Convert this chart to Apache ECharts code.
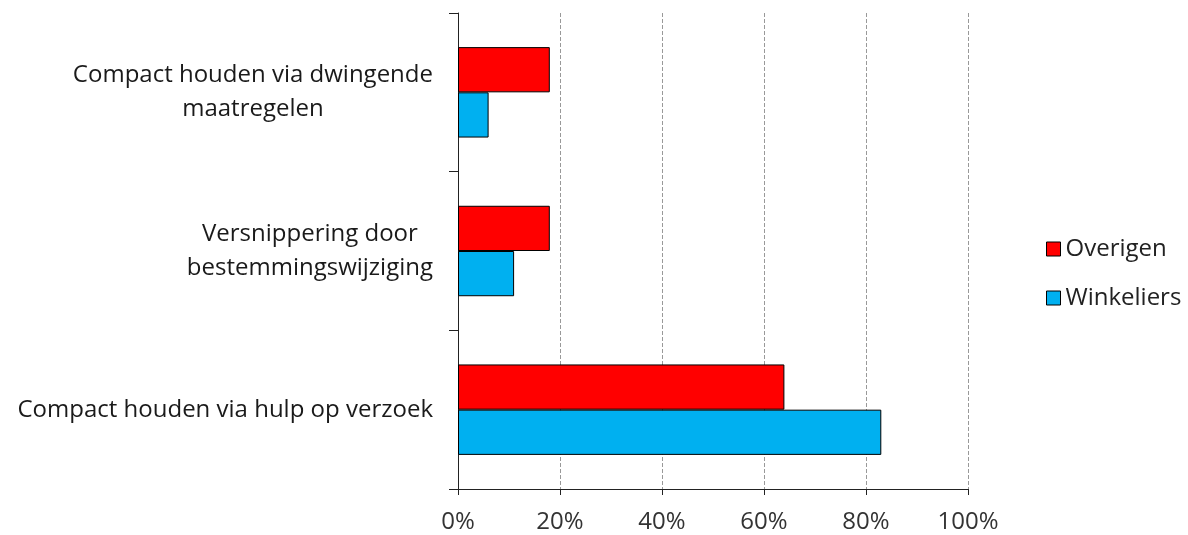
<!DOCTYPE html>
<html><head><meta charset="utf-8">
<script src="https://cdn.jsdelivr.net/npm/echarts@6/dist/echarts.min.js"></script>
<style>html,body{margin:0;padding:0;background:#fff}#c{width:1188px;height:535px}</style>
</head><body><div id="c"></div>
<script>
const categories = ["Compact houden via hulp op verzoek", "Versnippering door\nbestemmingswijziging", "Compact houden via dwingende\nmaatregelen"];
const overigen = [64, 18, 18];
const winkeliers = [83, 11, 6];
const xTicks = [0, 20, 40, 60, 80, 100];

const FONT = "'Open Sans', Lato, sans-serif";
const chart = echarts.init(document.getElementById('c'));
chart.setOption({
  animation: false,
  textStyle: { fontFamily: FONT },
  grid: { left: 458, top: 13, right: 220, bottom: 46, containLabel: false },
  legend: {
    orient: 'vertical', left: 1041, top: 232, itemGap: 25,
    itemWidth: 14, itemHeight: 14, icon: 'rect',
    data: ['Overigen', 'Winkeliers'],
    textStyle: { fontSize: 24, color: '#222', fontFamily: FONT },
    itemStyle: { borderColor: '#000', borderWidth: 1 }
  },
  xAxis: {
    type: 'value', min: xTicks[0], max: xTicks[xTicks.length - 1], interval: 20,
    axisLine: { show: true, lineStyle: { color: '#222', width: 1 } },
    axisTick: { show: true, length: 6, lineStyle: { color: '#222' } },
    axisLabel: { formatter: '{value}%', fontSize: 24, color: '#333', margin: 21, fontFamily: FONT },
    splitLine: { show: true, lineStyle: { type: 'dashed', color: '#999', width: 1 } }
  },
  yAxis: {
    type: 'category', data: categories,
    axisLine: { show: true, lineStyle: { color: '#222', width: 1 } },
    axisTick: { show: true, length: 9, alignWithLabel: false, lineStyle: { color: '#222' } },
    axisLabel: {
      margin: 25, fontSize: 24, color: '#1a1a1a', lineHeight: 34, fontFamily: FONT,
      formatter: function (v) { return v.split('\n').map(function (l) { return '{c|' + l + '}'; }).join('\n'); },
      rich: { c: { align: 'center', fontSize: 24, lineHeight: 34, color: '#1a1a1a', fontFamily: FONT } }
    },
    splitLine: { show: false }
  },
  series: [
    { name: 'Overigen', type: 'bar', data: overigen, barGap: '0%', barCategoryGap: '43%',
      itemStyle: { color: '#FF0000', borderColor: '#000', borderWidth: 1 } },
    { name: 'Winkeliers', type: 'bar', data: winkeliers, barGap: '0%', barCategoryGap: '43%',
      itemStyle: { color: '#00B0F0', borderColor: '#000', borderWidth: 1 } }
  ]
});
</script></body></html>
